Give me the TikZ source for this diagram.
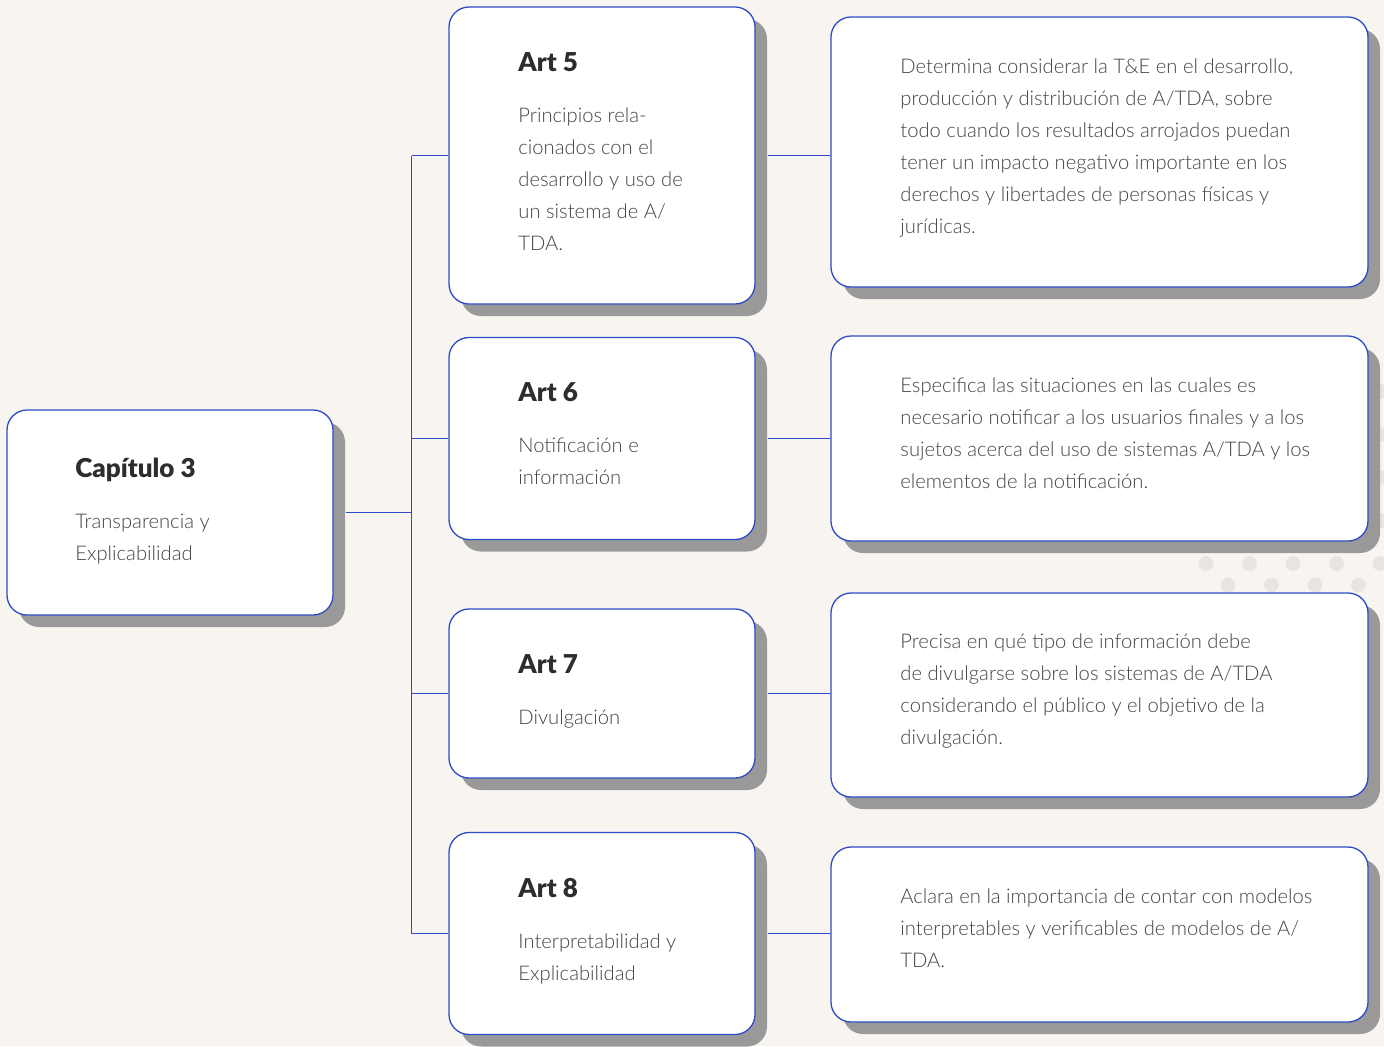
\documentclass[tikz,border=0pt]{standalone}
\usepackage{fontspec}
\setmainfont{Lato}[UprightFont=* Light, BoldFont=* Black]
\usetikzlibrary{shadows}
\definecolor{bgc}{HTML}{F8F5F1}
\definecolor{bblue}{HTML}{2E4BC6}
\definecolor{sgray}{HTML}{999999}
\definecolor{dotc}{HTML}{E8E5E0}
\definecolor{txt}{HTML}{444444}
\definecolor{ttl}{HTML}{2D2D2D}
\tikzset{
  box/.style={draw=bblue, line width=0.65pt, fill=white, rounded corners=10pt,
    inner sep=0pt, general shadow={fill=sgray, shadow xshift=6pt, shadow yshift=-6pt}},
  conn/.style={draw=bblue, line width=0.8pt},
  body/.style={inner sep=0pt, text=txt, font=\fontsize{10.1}{16}\selectfont},
  ttlstyle/.style={inner sep=0pt, text=ttl, font=\bfseries\fontsize{13}{16}\selectfont},
}
\newcommand\textlines[4]{%
  \foreach \lntxt [count=\i] in {#4} {%
    \node[body, anchor=base west] (#1-\i) at (#2, {#3+(\i-1)*32}) {\lntxt};}}
\begin{document}
\begin{tikzpicture}[x=0.5pt,y=-0.5pt]
\fill[bgc] (0,0) rectangle (1384,1046);
\useasboundingbox (0,0) rectangle (1384,1046);
% dots
\foreach \k in {0,...,10} {
  \pgfmathsetmacro\yy{585-21.5*\k}
  \ifodd\k
    \foreach \j in {0,...,4} {\fill[dotc] ({1206+43.5*\j},\yy) circle (3.7pt);}
  \else
    \foreach \j in {0,...,3} {\fill[dotc] ({1228+43.5*\j},\yy) circle (3.7pt);}
  \fi
}
% boxes
\node[box, minimum width=163pt, minimum height=102.5pt] (cap) at (170,512.5) {};
\node[box, minimum width=153pt, minimum height=148.5pt] (a5) at (602,155.5) {};
\node[box, minimum width=153pt, minimum height=101pt] (a6) at (602,438.5) {};
\node[box, minimum width=153pt, minimum height=84.5pt] (a7) at (602,693.5) {};
\node[box, minimum width=153pt, minimum height=101pt] (a8) at (602,933.5) {};
\node[box, minimum width=268.5pt, minimum height=135pt] (d1) at (1099.5,152) {};
\node[box, minimum width=268.5pt, minimum height=102.5pt] (d2) at (1099.5,438.5) {};
\node[box, minimum width=268.5pt, minimum height=102pt] (d3) at (1099.5,695) {};
\node[box, minimum width=268.5pt, minimum height=87.5pt] (d4) at (1099.5,934.5) {};
% connectors
\coordinate (tt) at (411.5,155.5);
\coordinate (tb) at (411.5,933.5);
\draw[conn] (tt) -- (tb);
\draw[conn] ([xshift=6pt]cap.east) -- (cap.east -| tt);
\foreach \a/\d in {a5/d1,a6/d2,a7/d3,a8/d4} {
  \draw[conn] (\a.west -| tt) -- (\a.west);
  \draw[conn] ([xshift=6pt]\a.east) -- (\a.east -| \d.west);
}
% texts
\node[ttlstyle, anchor=base west] (capt) at (75,477) {Capítulo 3};
\textlines{capb}{75}{528}{{Transparencia y},{Explicabilidad}}
\node[ttlstyle, anchor=base west] (a5t) at (518,71) {Art 5};
\textlines{a5b}{518}{122}{{Principios rela-},{cionados con el},{desarrollo y uso de},{un sistema de A/},{TDA.}}
\node[ttlstyle, anchor=base west] (a6t) at (518,401) {Art 6};
\textlines{a6b}{518}{452}{{Notificación e},{información}}
\node[ttlstyle, anchor=base west] (a7t) at (518,673) {Art 7};
\textlines{a7b}{518}{724}{{Divulgación}}
\node[ttlstyle, anchor=base west] (a8t) at (518,897) {Art 8};
\textlines{a8b}{518}{948}{{Interpretabilidad y},{Explicabilidad}}
\textlines{d1b}{900}{73}{{Determina considerar la T\&E en el desarrollo,},{producción y distribución de A/TDA, sobre},{todo cuando los resultados arrojados puedan},{tener un impacto negativo importante en los},{derechos y libertades de personas físicas y},{jurídicas.}}
\textlines{d2b}{900}{392}{{Especifica las situaciones en las cuales es},{necesario notificar a los usuarios finales y a los},{sujetos acerca del uso de sistemas A/TDA y los},{elementos de la notificación.}}
\textlines{d3b}{900}{648}{{Precisa en qué tipo de información debe},{de divulgarse sobre los sistemas de A/TDA},{considerando el público y el objetivo de la},{divulgación.}}
\textlines{d4b}{900}{903}{{Aclara en la importancia de contar con modelos},{interpretables y verificables de modelos de A/},{TDA.}}
\end{tikzpicture}
\end{document}
